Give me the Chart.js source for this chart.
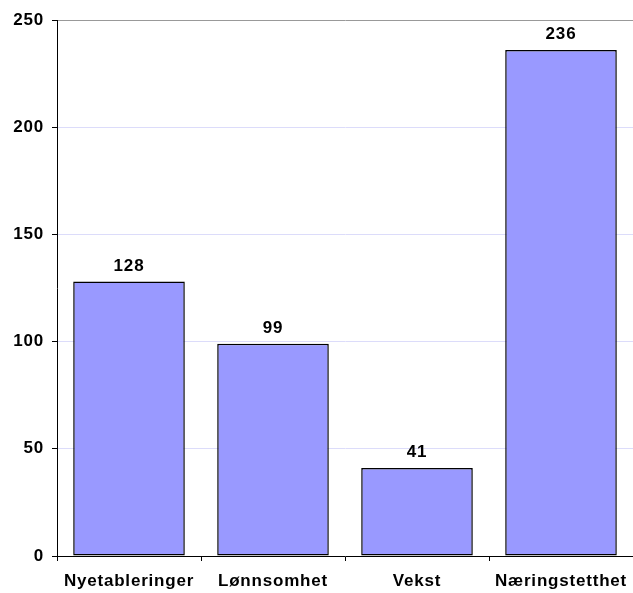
<!DOCTYPE html>
<html>
<head>
<meta charset="utf-8">
<script src="https://cdn.jsdelivr.net/npm/chart.js@4"></script>
<style>
  html, body { margin: 0; padding: 0; background: #fff; }
  #wrap { width: 633px; height: 593px; }
</style>
</head>
<body>
<div id="wrap"><canvas id="chart"></canvas></div>
<script>
// categories and values
const categories = ['Nyetableringer', 'Lønnsomhet', 'Vekst', 'Næringstetthet'];
const values = [128, 99, 41, 236];
const yTicks = [0, 50, 100, 150, 200, 250];

const labelFont = { family: '"Liberation Sans", Arial, sans-serif', size: 17, weight: 'bold' };

// the original text is a bit wider spaced than Arial
const spacing = {
    id: 'spacing',
    beforeLayout(chart) { chart.ctx.letterSpacing = '0.8px'; },
    beforeDraw(chart) { chart.ctx.letterSpacing = '0.8px'; }
};

// draws the number above each bar
const barLabels = {
    id: 'barLabels',
    afterDatasetsDraw(chart) {
        const ctx = chart.ctx;
        const meta = chart.getDatasetMeta(0);
        ctx.save();
        ctx.letterSpacing = '0.8px';
        ctx.font = 'bold 17px "Liberation Sans", Arial, sans-serif';
        ctx.fillStyle = '#000';
        ctx.textAlign = 'center';
        ctx.textBaseline = 'alphabetic';
        meta.data.forEach((bar, i) => {
            ctx.fillText(String(values[i]), bar.x, bar.y - 11);
        });
        ctx.restore();
    }
};

new Chart(document.getElementById('chart').getContext('2d'), {
    type: 'bar',
    data: {
        labels: categories,
        datasets: [{
            data: values,
            backgroundColor: '#9999ff',
            borderColor: '#000',
            borderWidth: 1.5,
            borderSkipped: false,
            categoryPercentage: 1,
            barPercentage: 0.775
        }]
    },
    options: {
        responsive: true,
        maintainAspectRatio: false,
        animation: false,
        layout: { padding: { top: 20, right: 0, left: 0, bottom: 0 } },
        plugins: {
            legend: { display: false },
            tooltip: { enabled: false }
        },
        scales: {
            x: {
                grid: {
                    offset: true,
                    drawOnChartArea: false,
                    drawTicks: true,
                    tickLength: 5,
                    tickColor: '#000'
                },
                border: { color: '#000', width: 1 },
                ticks: { color: '#000', font: labelFont, padding: 10, maxRotation: 0, autoSkip: false },
                afterFit(scale) {
                    scale.height = 37;
                    scale.paddingLeft = 0;
                    scale.paddingRight = 0;
                }
            },
            y: {
                min: 0,
                max: 250,
                afterBuildTicks(scale) { scale.ticks = yTicks.map(v => ({ value: v })); },
                grid: {
                    color(ctx) { return ctx.tick && ctx.tick.value === 250 ? '#999999' : '#dcdcfa'; },
                    tickColor: '#000',
                    tickLength: 5
                },
                border: { color: '#000', width: 1 },
                ticks: { color: '#000', font: labelFont, padding: 8 },
                afterFit(scale) { scale.width = 57; }
            }
        }
    },
    plugins: [spacing, barLabels]
});
</script>
</body>
</html>
